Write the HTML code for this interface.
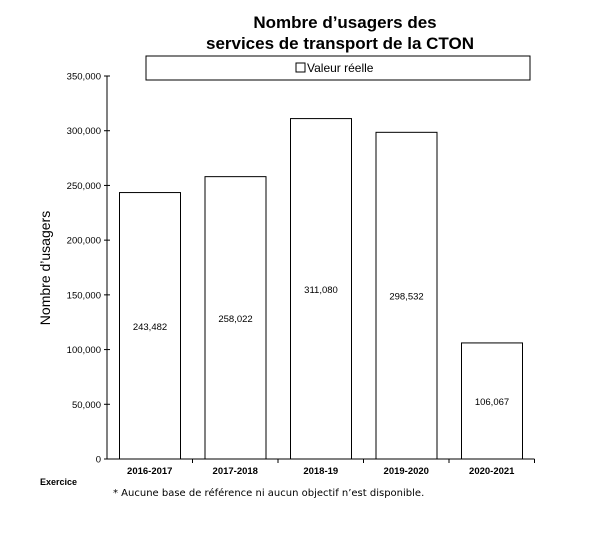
<!DOCTYPE html>
<html><head><meta charset="utf-8"><style>
body{margin:0;background:#fff;width:610px;height:534px;overflow:hidden;font-family:"Liberation Sans",sans-serif}
</style></head><body>
<svg width="610" height="534" viewBox="0 0 610 534" font-family="Liberation Sans, sans-serif">
<text x="345" y="28" text-anchor="middle" font-size="17" font-weight="bold">Nombre d’usagers des</text>
<text x="340" y="49" text-anchor="middle" font-size="17" font-weight="bold">services de transport de la CTON</text>
<g>
<rect x="146" y="56" width="384" height="24" fill="#fff" stroke="#000" stroke-width="1"/>
<rect x="296" y="63" width="9" height="9" fill="#fff" stroke="#000"/>
<text x="307" y="72" font-size="12">Valeur réelle</text>
</g>
<text transform="translate(50,268) rotate(-90)" text-anchor="middle" font-size="14">Nombre d’usagers</text>
<g id="yaxis"></g>
<g id="bars"></g>
<g id="xaxis"></g>
<text x="40" y="485" font-size="9" font-weight="bold">Exercice</text>
<text x="113" y="496" font-size="10" font-family="DejaVu Sans, sans-serif">* Aucune base de référence ni aucun objectif n’est disponible.</text>
</svg>
<script>
const categories=["2016-2017","2017-2018","2018-19","2019-2020","2020-2021"];
const values=[243482,258022,311080,298532,106067];
const valueLabels=["243,482","258,022","311,080","298,532","106,067"];
const yTicks=[0,50000,100000,150000,200000,250000,300000,350000];
const yTickLabels=["0","50,000","100,000","150,000","200,000","250,000","300,000","350,000"];
const NS="http://www.w3.org/2000/svg";
const x0=107,band=85.5,y0=459,yTop=76,yMax=350000;
const y=v=>y0-(v/yMax)*(y0-yTop);
const bx=i=>x0+i*band;
function mk(t,a,p){const e=document.createElementNS(NS,t);for(const k in a)e.setAttribute(k,a[k]);p.appendChild(e);return e;}
const ya=document.getElementById('yaxis'),xa=document.getElementById('xaxis'),bg=document.getElementById('bars');
const ax=mk('line',{x1:x0,y1:yTop,x2:x0,y2:y0,stroke:'#000'},ya);


yTicks.forEach((v,i)=>{
 const tk=mk('line',{x1:x0-3,x2:x0+3,y1:y(v),y2:y(v),stroke:'#000'},ya);
 
 
 const t=mk('text',{x:x0-6,y:y(v)+3.5,'text-anchor':'end','font-size':'9.5'},ya);
 t.textContent=yTickLabels[i];
 
 
});
const xl=mk('line',{x1:x0,y1:y0,x2:x0+band*5,y2:y0,stroke:'#000'},xa);


categories.forEach((c,i)=>{
 const tk=mk('line',{x1:bx(i+1),x2:bx(i+1),y1:y0,y2:y0+4,stroke:'#000'},xa);
 
 
 const t=mk('text',{x:bx(i)+band/2,y:y0+15,'text-anchor':'middle','font-size':'9.5','font-weight':'bold'},xa);
 t.textContent=c;
 
 
 const r=mk('rect',{x:bx(i)+12.5,y:y(values[i]),width:61,height:y0-y(values[i]),fill:'#fff',stroke:'#000','stroke-width':1},bg);
 
 
 const lt=mk('text',{x:bx(i)+43,y:(y(values[i])+y0)/2+4,'text-anchor':'middle','font-size':'9.5'},bg);
 lt.textContent=valueLabels[i];
 
 
});
</script>
</body></html>
